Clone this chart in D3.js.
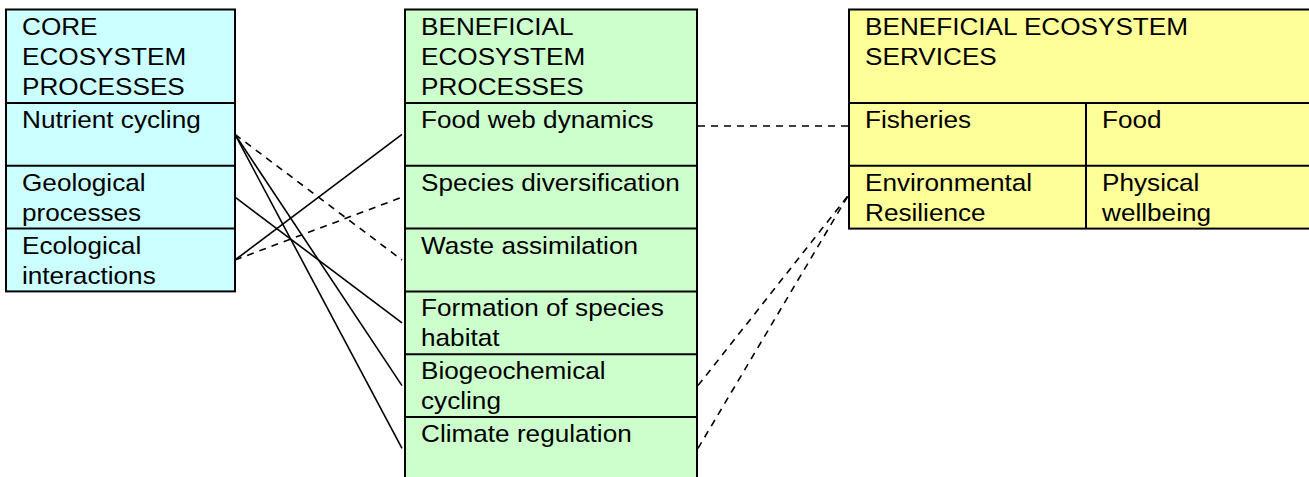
<!DOCTYPE html>
<html>
<head>
<meta charset="utf-8">
<script src="https://cdn.jsdelivr.net/npm/d3@7"></script>
<style>
  body { margin: 0; background: #fff; }
  text { font-family: "Liberation Sans", Arial, sans-serif; font-size: 24px; fill: #000; }
</style>
</head>
<body>
<div id="chart-area"></div>
<script>
// box titles
var coreTitle = ["CORE", "ECOSYSTEM", "PROCESSES"];
var beneficialTitle = ["BENEFICIAL", "ECOSYSTEM", "PROCESSES"];
var servicesTitle = ["BENEFICIAL ECOSYSTEM", "SERVICES"];

// rows of each box
var coreProcesses = [["Nutrient cycling"], ["Geological", "processes"], ["Ecological", "interactions"]];
var beneficialProcesses = [["Food web dynamics"], ["Species diversification"], ["Waste assimilation"],
  ["Formation of species", "habitat"], ["Biogeochemical", "cycling"], ["Climate regulation"]];
var servicesLeft = [["Fisheries"], ["Environmental", "Resilience"]];
var servicesRight = [["Food"], ["Physical", "wellbeing"]];

// links core -> beneficial : [from, to, dashed]
var coreLinks = [[0, 2, true], [0, 4, false], [0, 5, false], [1, 3, false], [2, 0, false], [2, 1, true]];
// links beneficial -> services
var serviceLinks = [[0, 0], [4, 1], [5, 1]];

var width = 1309, height = 477;

var svg = d3.select("#chart-area").append("svg")
  .attr("width", width)
  .attr("height", height);

// row scale: row index -> top of row
var rowY = d3.scaleLinear().domain([0, 1]).range([103, 165.8]);
var rowH = rowY(1) - rowY(0);
var boxTop = 9.5;

var cols = {
  core: {x: 6, w: 229, fill: "#ccffff"},
  ben: {x: 405, w: 292, fill: "#ccffcc"},
  serv: {x: 849, w: 480, fill: "#ffff99"}
};
var servSplit = 1086;

function writeLines(x, y, lines) {
  lines.forEach(function(s, i) {
    svg.append("text")
      .attr("transform", "translate(" + x + "," + (y + 25 + i * 30) + ") scale(1.09,1)")
      .text(s);
  });
}

function drawBox(c, title, rows, bottom) {
  svg.append("rect")
    .attr("x", c.x).attr("y", boxTop)
    .attr("width", c.w).attr("height", bottom - boxTop)
    .attr("fill", c.fill)
    .attr("stroke", "#000").attr("stroke-width", 2);
  writeLines(c.x + 16, boxTop, title);
  rows.forEach(function(r, i) {
    svg.append("line")
      .attr("x1", c.x).attr("x2", c.x + c.w)
      .attr("y1", rowY(i)).attr("y2", rowY(i))
      .attr("stroke", "#000").attr("stroke-width", 2);
    writeLines(c.x + 16, rowY(i), r);
  });
}

drawBox(cols.core, coreTitle, coreProcesses, rowY(coreProcesses.length));
drawBox(cols.ben, beneficialTitle, beneficialProcesses, rowY(beneficialProcesses.length) + 20);
drawBox(cols.serv, servicesTitle, servicesLeft, rowY(servicesLeft.length));

// second column of services
svg.append("line")
  .attr("x1", servSplit).attr("x2", servSplit)
  .attr("y1", rowY(0)).attr("y2", rowY(servicesRight.length))
  .attr("stroke", "#000").attr("stroke-width", 2);
servicesRight.forEach(function(r, i) {
  writeLines(servSplit + 16, rowY(i), r);
});

function mid(i) { return rowY(i) + rowH / 2; }

// core -> beneficial links
svg.selectAll(".core-link")
  .data(coreLinks)
  .enter().append("line")
    .attr("class", "core-link")
    .attr("x1", cols.core.x + cols.core.w)
    .attr("y1", d => mid(d[0]))
    .attr("x2", cols.ben.x - 3)
    .attr("y2", d => mid(d[1]))
    .attr("stroke", "#000")
    .attr("stroke-width", 1.6)
    .attr("stroke-dasharray", d => d[2] ? "7,6" : null);

// beneficial -> services links (dashed)
svg.selectAll(".serv-link")
  .data(serviceLinks)
  .enter().append("line")
    .attr("class", "serv-link")
    .attr("x1", cols.ben.x + cols.ben.w + 1)
    .attr("y1", d => d[1] === 0 ? rowY(d[0]) + 23 : mid(d[0]))
    .attr("x2", cols.serv.x - 1)
    .attr("y2", d => d[1] === 0 ? rowY(d[1]) + 23 : rowY(d[1]) + 30)
    .attr("stroke", "#000")
    .attr("stroke-width", 1.6)
    .attr("stroke-dasharray", "7,6");
</script>
</body>
</html>
